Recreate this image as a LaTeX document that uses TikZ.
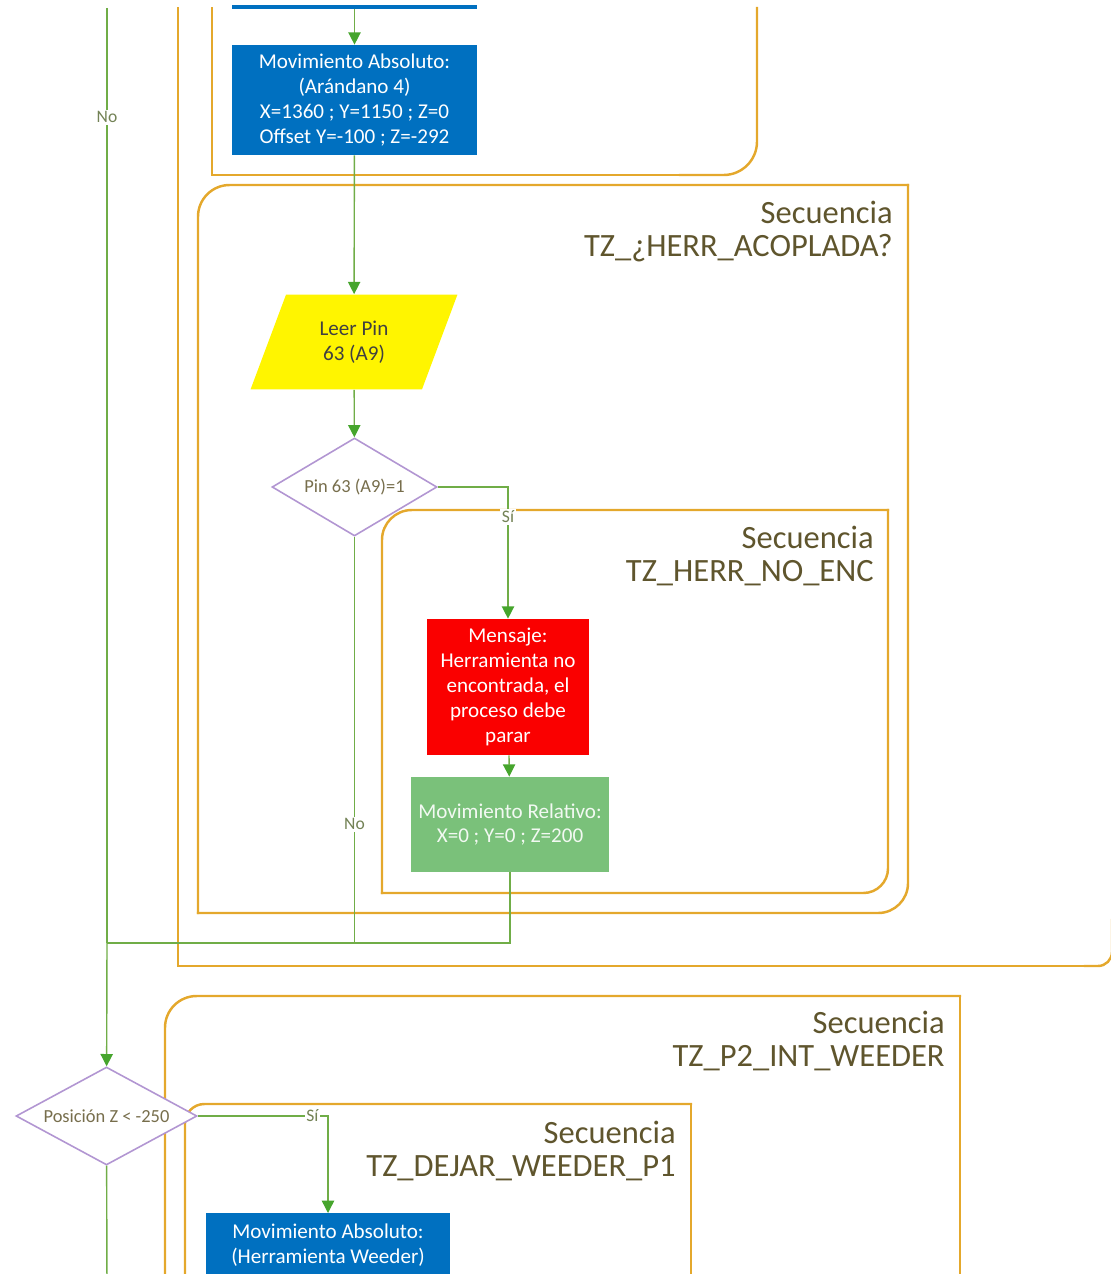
\documentclass[tikz,border=0pt]{standalone}
\usepackage{fontspec}
\setmainfont{Carlito}
\usetikzlibrary{arrows.meta,shapes.geometric}

\definecolor{absblue}{RGB}{0,112,192}
\definecolor{msgred}{RGB}{250,0,0}
\definecolor{relgreen}{RGB}{122,193,122}
\definecolor{readyellow}{RGB}{255,245,0}
\definecolor{flowgreen}{RGB}{112,173,71}
\definecolor{arrowgreen}{RGB}{70,165,45}
\definecolor{framegold}{RGB}{228,168,44}
\definecolor{seqtext}{RGB}{95,85,45}
\definecolor{decpurple}{RGB}{178,150,210}
\definecolor{tagtext}{RGB}{115,130,85}

\begin{document}
\begin{tikzpicture}[x=0.02cm,y=-0.02cm,>={Triangle[length=7pt,width=7pt,color=arrowgreen]},
  flow/.style={draw=flowgreen,line width=0.8pt},
  tag/.style={fill=white,text=tagtext,font=\fontsize{10}{12}\selectfont,inner sep=1pt},
  seqframe/.style={draw=framegold,line width=1.4pt,line cap=rect},
  seqlabel/.style={anchor=north east,align=right,text=seqtext,inner sep=0pt,
    font=\fontsize{18.5}{18.7}\selectfont},
  absbox/.style={rectangle,fill=absblue,text=white,align=center,inner sep=0pt,
    minimum width=4.9cm,minimum height=2.2cm,font=\fontsize{12}{14.2}\selectfont},
  msgbox/.style={rectangle,fill=msgred,text=white,align=center,inner sep=0pt,
    minimum width=3.24cm,minimum height=2.72cm,font=\fontsize{12}{14.2}\selectfont},
  relbox/.style={rectangle,fill=relgreen,text=white!90!relgreen,align=center,inner sep=0pt,
    minimum width=3.96cm,minimum height=1.9cm,font=\fontsize{12}{14.2}\selectfont},
  readbox/.style={trapezium,trapezium left angle=67,trapezium right angle=113,
    trapezium stretches=true,fill=readyellow,text=black!75,align=center,inner sep=0pt,
    minimum width=4.16cm,minimum height=1.9cm,font=\fontsize{12}{14.2}\selectfont},
  decision/.style={diamond,draw=decpurple,line width=0.9pt,fill=white,text=seqtext!85,
    inner sep=1pt,font=\fontsize{10.5}{12}\selectfont}]

  \useasboundingbox (0,0) rectangle (1111,1274);

  % sequence frames
  \draw[seqframe] (178,8) -- (178,966) -- (1090,966);
  \draw[seqframe,rounded corners=8pt] (1085,966) -- (1112,966) -- (1112,920);
  \draw[seqframe] (212,8) -- (212,175) -- (690,175);
  \draw[seqframe,rounded corners=19pt] (680,175) -- (757,175) -- (757,8);
  \draw[seqframe,rounded corners=18pt] (198,913) -- (198,185) -- (908,185);
  \draw[seqframe,rounded corners=17pt] (908,185) -- (908,913) -- (198,913);
  \draw[seqframe,rounded corners=17pt] (382,893) -- (382,510) -- (888,510);
  \draw[seqframe,rounded corners=14pt] (888,510) -- (888,893) -- (382,893);
  \draw[seqframe,rounded corners=18pt] (165,1290) -- (165,996) -- (960,996);
  \draw[seqframe] (960,996) -- (960,1290);
  \draw[seqframe,rounded corners=11pt] (185,1290) -- (185,1104) -- (691,1104);
  \draw[seqframe] (691,1104) -- (691,1290);

  \node[seqlabel] (seqacop) at (893,201) {Secuencia\\TZ\_¿HERR\_ACOPLADA?};
  \node[seqlabel] (seqnoenc) at (874,526) {Secuencia\\TZ\_HERR\_NO\_ENC};
  \node[seqlabel] (seqweeder) at (945,1011) {Secuencia\\TZ\_P2\_INT\_WEEDER};
  \node[seqlabel] (seqdejar) at (676,1121) {Secuencia\\TZ\_DEJAR\_WEEDER\_P1};

  % steps
  \node[absbox,minimum height=0.08cm] (absprev) at (354.5,7) {};
  \node[absbox] (abs4) at (354.5,100) {Movimiento Absoluto:\\(Arándano 4)\\X=1360 ; Y=1150 ; Z=0\\Offset Y=-100 ; Z=-292};
  \node[readbox] (leer) at (354,342) {Leer Pin\\63 (A9)};
  \node[decision,aspect=1.68,minimum width=3.3cm,minimum height=1.96cm] (pin) at (354.5,487) {Pin 63 (A9)=1};
  \node[msgbox] (msg) at (508,687) {Mensaje:\\Herramienta no\\encontrada, el\\proceso debe\\parar};
  \node[relbox] (rel) at (510,824.5) {Movimiento Relativo:\\X=0 ; Y=0 ; Z=200};
  \node[decision,aspect=1.85,minimum width=3.62cm,minimum height=1.96cm] (posz) at (106.5,1116) {Posición Z < -250};
  \node[absbox,anchor=north] (dejar) at (328,1213) {Movimiento Absoluto:\\(Herramienta Weeder)\\~\\~};

  \coordinate (lefttop) at (107,8);
  \coordinate (merge) at (107,943);
  \coordinate (leftbot) at (107,1290);

  % connectors
  \path[flow]
    (absprev) edge[->] (abs4)
    (abs4) edge[->] (leer)
    (leer) edge[->] (pin)
    (msg) edge[->] (rel)
    (lefttop) edge node[tag,pos=0.117] {No} (merge)
    (merge) edge[->] (posz)
    (posz) edge (leftbot)
    (pin.south) edge node[tag,pos=0.708] {No} (pin.south |- merge);
  \draw[flow,->] (pin.east) -| node[tag,pos=0.614] {Sí} (msg.north);
  \draw[flow] (rel.south) |- (merge);
  \draw[flow,->] (posz.east) -| node[tag,pos=0.44] {Sí} (dejar.north);
\end{tikzpicture}
\end{document}
